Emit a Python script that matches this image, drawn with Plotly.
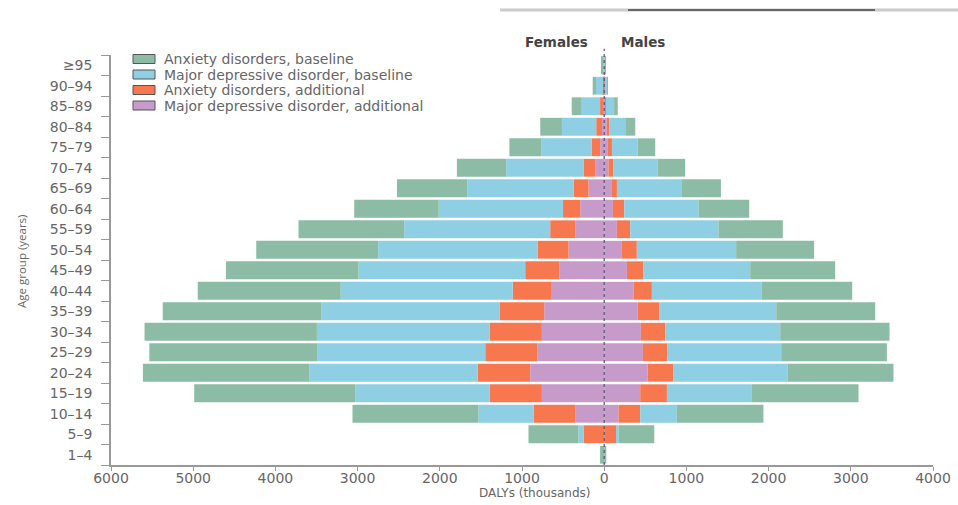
import plotly.graph_objects as go

# Age groups, bottom to top
age_groups = ["1–4", "5–9", "10–14", "15–19", "20–24", "25–29", "30–34", "35–39",
              "40–44", "45–49", "50–54", "55–59", "60–64", "65–69", "70–74",
              "75–79", "80–84", "85–89", "90–94", "≥95"]

# DALYs (thousands) - females
female_anx_base = [50, 608, 1533, 1959, 2027, 2047, 2097, 1928, 1740, 1613, 1484, 1286, 1028, 855, 600, 386, 264, 122, 40, 10]
female_mdd_base = [0, 61, 669, 1634, 2044, 2040, 2100, 2169, 2092, 2028, 1938, 1776, 1511, 1293, 940, 617, 417, 223, 85, 20]
female_anx_add = [0, 252, 507, 637, 641, 636, 637, 544, 466, 417, 377, 304, 210, 182, 142, 101, 70, 35, 10, 3]
female_mdd_add = [0, 0, 353, 758, 900, 811, 758, 730, 647, 544, 434, 353, 292, 191, 110, 49, 27, 15, 5, 2]

# DALYs (thousands) - males
male_anx_base = [25, 434, 1053, 1297, 1289, 1286, 1330, 1204, 1099, 1034, 949, 783, 617, 474, 337, 215, 122, 45, 10, 2]
male_mdd_base = [0, 20, 446, 1034, 1387, 1383, 1399, 1420, 1338, 1298, 1208, 1074, 904, 791, 535, 312, 191, 100, 30, 8]
male_anx_add = [0, 155, 264, 325, 316, 299, 296, 268, 224, 202, 182, 162, 137, 61, 61, 49, 35, 10, 3, 1]
male_mdd_add = [0, 0, 174, 438, 527, 471, 446, 405, 356, 276, 215, 154, 106, 94, 52, 45, 30, 10, 3, 2]

x_tick_vals = [-6000, -5000, -4000, -3000, -2000, -1000, 0, 1000, 2000, 3000, 4000]
x_tick_text = ["6000", "5000", "4000", "3000", "2000", "1000", "0", "1000", "2000", "3000", "4000"]

legend_names = ["Anxiety disorders, baseline", "Major depressive disorder, baseline",
                "Anxiety disorders, additional", "Major depressive disorder, additional"]

series = [
    ("Major depressive disorder, additional", female_mdd_add, male_mdd_add, "#c69ac9"),
    ("Anxiety disorders, additional", female_anx_add, male_anx_add, "#f7774f"),
    ("Major depressive disorder, baseline", female_mdd_base, male_mdd_base, "#8fcfe3"),
    ("Anxiety disorders, baseline", female_anx_base, male_anx_base, "#8dbca6"),
]
color_of = {name: color for name, _, _, color in series}

fig = go.Figure()
for name, fvals, mvals, color in series:
    fig.add_trace(go.Bar(
        y=age_groups, x=[-v for v in fvals], orientation="h", name=name,
        marker=dict(color=color, line=dict(width=0)), showlegend=False))
for name, fvals, mvals, color in series:
    fig.add_trace(go.Bar(
        y=age_groups, x=mvals, orientation="h", name=name,
        marker=dict(color=color, line=dict(width=0)), showlegend=False))

font_family = "DejaVu Sans, sans-serif"
grey = "#666666"

# plot area in pixels: x 111..933, y 55..465
def px_x(px):
    return (px - 111) / 822.0

def px_y(py):
    return (465 - py) / 410.0

shapes = [
    dict(type="line", xref="x", yref="paper", x0=0, x1=0, y0=0, y1=1.015,
         line=dict(color="#5a5070", width=1.2, dash="dot")),
    dict(type="line", xref="paper", yref="paper", x0=px_x(500), x1=px_x(958),
         y0=px_y(10), y1=px_y(10), line=dict(color="#cccccc", width=3)),
    dict(type="line", xref="paper", yref="paper", x0=px_x(628), x1=px_x(875),
         y0=px_y(10), y1=px_y(10), line=dict(color="#666666", width=2)),
]
annotations = [
    dict(text="<b>Females</b>", xref="x", yref="paper", x=-170, y=px_y(41.7),
         xanchor="right", yanchor="middle", showarrow=False,
         font=dict(size=13.5, color="#444444")),
    dict(text="<b>Males</b>", xref="x", yref="paper", x=182, y=px_y(41.7),
         xanchor="left", yanchor="middle", showarrow=False,
         font=dict(size=13.5, color="#444444")),
    dict(text="DALYs (thousands)", xref="paper", yref="paper", x=px_x(534), y=px_y(493),
         xanchor="center", yanchor="middle", showarrow=False,
         font=dict(size=12, color=grey)),
    dict(text="Age group (years)", xref="paper", yref="paper", x=px_x(21), y=px_y(262),
         xanchor="center", yanchor="middle", textangle=-90, showarrow=False,
         font=dict(size=11.5, color=grey, family="Open Sans, sans-serif")),
]

# custom legend (compact rows)
row_centers = [59, 74.5, 90, 105.5]
for name, cy in zip(legend_names, row_centers):
    shapes.append(dict(type="rect", xref="paper", yref="paper",
                       x0=px_x(133), x1=px_x(155), y0=px_y(cy + 4.5), y1=px_y(cy - 4.5),
                       fillcolor=color_of[name], line=dict(color="#555555", width=1)))
    annotations.append(dict(text=name, xref="paper", yref="paper", x=px_x(162), y=px_y(cy),
                            xanchor="left", yanchor="middle", showarrow=False,
                            font=dict(size=14, color=grey)))

fig.update_layout(
    width=958, height=505, autosize=False,
    barmode="relative", bargap=0.13,
    paper_bgcolor="white", plot_bgcolor="white",
    margin=dict(l=111, r=25, t=55, b=40, autoexpand=False),
    font=dict(family=font_family, size=12, color=grey),
    showlegend=False,
    xaxis=dict(range=[-6000, 4000], tickvals=x_tick_vals, ticktext=x_tick_text,
               showgrid=False, zeroline=False, showline=True, linecolor="#999999",
               linewidth=1.5, ticks="outside", ticklen=4, tickcolor="#999999",
               ticklabelstandoff=-5, automargin=False,
               tickfont=dict(size=14, color=grey)),
    yaxis=dict(categoryorder="array", categoryarray=age_groups, range=[-0.5, 19.5],
               showgrid=False, zeroline=False, showline=True, linecolor="#999999",
               linewidth=1.5, ticks="outside", ticklen=8, tickcolor="#999999",
               tickson="boundaries", ticklabelstandoff=14, automargin=False,
               tickfont=dict(size=14, color=grey)),
    shapes=shapes,
    annotations=annotations,
)

fig.write_html("out.html", config={"displayModeBar": False},
               post_script="document.body.style.margin='0px';")
